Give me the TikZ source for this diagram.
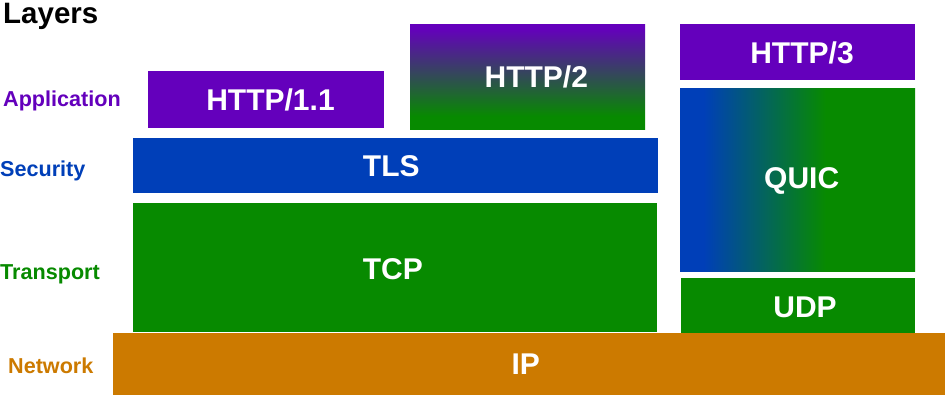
\documentclass[tikz,border=0pt]{standalone}
\usepackage{fontspec}
\setmainfont{Liberation Sans}
\definecolor{appc}{HTML}{6400BC}
\definecolor{secc}{HTML}{003FB8}
\definecolor{trc}{HTML}{078A00}
\definecolor{netc}{HTML}{CC7A00}
% purple-to-green fade for HTTP/2, blue-to-green fade for QUIC
\pgfdeclareverticalshading{httptwoshade}{100bp}{color(0bp)=(trc); color(31bp)=(trc); color(73bp)=(appc); color(100bp)=(appc)}
\pgfdeclarehorizontalshading{quicshade}{100bp}{color(0bp)=(secc); color(30bp)=(secc); color(56bp)=(trc); color(100bp)=(trc)}
\tikzset{
  layerbox/.style={rectangle, inner sep=0pt},
  boxtext/.style={inner sep=0pt, text=white,
    font=\fontsize{30}{35}\selectfont\bfseries,
    text height=21.5pt, text depth=0pt},
  layername/.style={anchor=base west, inner sep=0pt,
    font=\fontsize{21.6}{26}\selectfont\bfseries},
}
\begin{document}
\begin{tikzpicture}[x=1pt, y=-1pt]
\useasboundingbox (0,0) rectangle (952,400);
% layer names
\node[layername, font=\fontsize{29.5}{34}\selectfont\bfseries] (title) at (3,23) {Layers};
\node[layername, text=appc] (lapp) at (3,106) {Application};
\node[layername, text=secc] (lsec) at (0,176) {Security};
\node[layername, text=trc] (ltr) at (0,279) {Transport};
\node[layername, text=netc] (lnet) at (8,373) {Network};
% protocol blocks
\node[layerbox, fill=appc, minimum width=236pt, minimum height=57pt] (http1) at (266,99.5) {};
\node[layerbox, shading=httptwoshade, minimum width=235pt, minimum height=105pt] (http2) at (527.5,76.5) {};
\node[layerbox, fill=appc, minimum width=235pt, minimum height=56pt] (http3) at (797.5,52) {};
\node[layerbox, fill=secc, minimum width=525pt, minimum height=55pt] (tls) at (395.5,165.5) {};
\node[layerbox, fill=trc, minimum width=524pt, minimum height=129pt] (tcp) at (395,267.5) {};
\node[layerbox, shading=quicshade, minimum width=235pt, minimum height=183pt] (quic) at (797.5,179.5) {};
\node[layerbox, fill=trc, minimum width=234pt, minimum height=55pt] (udp) at (798,305.5) {};
\node[layerbox, fill=netc, minimum width=832pt, minimum height=62pt] (ip) at (529,364) {};
% protocol names
\node[boxtext] (http1-t) at (270.5,99.5) {HTTP/1.1};
\node[boxtext] (http2-t) at (536.3,76.3) {HTTP/2};
\node[boxtext] (http3-t) at (802,53) {HTTP/3};
\node[boxtext] (tls-t) at (391.3,165.8) {TLS};
\node[boxtext] (tcp-t) at (392.8,268.7) {TCP};
\node[boxtext] (quic-t) at (801.7,178) {QUIC};
\node[boxtext] (udp-t) at (805,306.7) {UDP};
\node[boxtext] (ip-t) at (525.8,364.2) {IP};
\end{tikzpicture}
\end{document}
